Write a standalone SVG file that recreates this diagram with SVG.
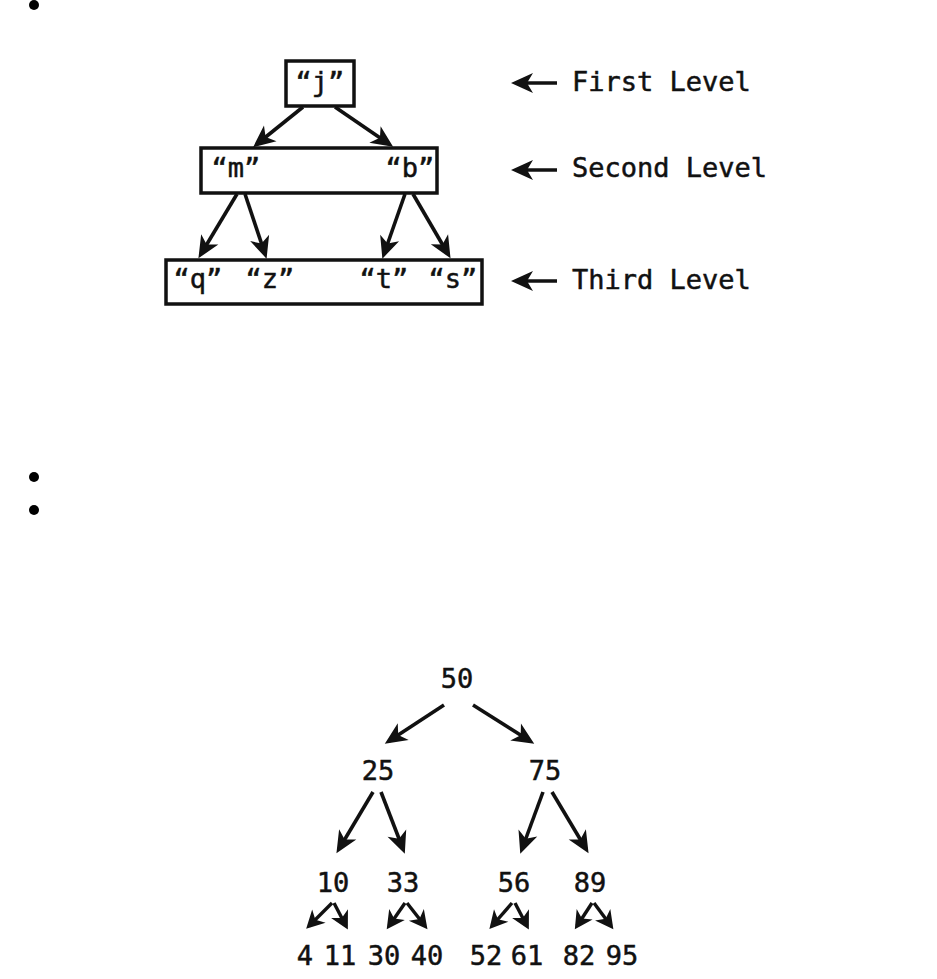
<svg xmlns="http://www.w3.org/2000/svg" width="937" height="979" viewBox="0 0 937 979">
<style>
text{font-family:"DejaVu Sans Mono","Liberation Mono",monospace;font-size:27px;fill:#111;stroke:#111;stroke-width:0.5;text-anchor:middle}
.lbl{text-anchor:start}
.box{fill:#fff;stroke:#111;stroke-width:3.5}
.c line{stroke:#111;stroke-width:3.6;marker-end:url(#ah)}
.c .s{stroke-width:3.4;marker-end:url(#ahs)}
</style>
<defs>
<marker id="ah" viewBox="-20 -12 28 24" markerWidth="28" markerHeight="24" refX="0" refY="0" orient="auto" markerUnits="userSpaceOnUse">
<path d="M5,0 L-17,-10 L-11,0 L-17,10 Z" fill="#111"/>
</marker>
<marker id="ahs" viewBox="-20 -12 28 24" markerWidth="28" markerHeight="24" refX="0" refY="0" orient="auto" markerUnits="userSpaceOnUse">
<path d="M4,0 L-14,-9.5 L-9,0 L-14,9.5 Z" fill="#111"/>
</marker>
</defs>
<g id="bullets" fill="#000">
<circle cx="34" cy="5" r="5"/>
<circle cx="34" cy="477" r="5"/>
<circle cx="34" cy="510" r="5"/>
</g>
<g id="n-j"><rect class="box" x="286" y="61" width="68" height="45"/><text x="320" y="91">“j”</text></g>
<g id="n-mb"><rect class="box" x="201" y="148" width="236" height="45"/><text x="236" y="177">“m”</text><text x="410" y="177">“b”</text></g>
<g id="n-qzts"><rect class="box" x="166" y="260" width="316" height="44"/><text x="198" y="288">“q”</text><text x="270" y="288">“z”</text><text x="384" y="288">“t”</text><text x="453" y="288">“s”</text></g>
<g id="l1"><text class="lbl" x="572" y="91">First Level</text></g>
<g id="l2"><text class="lbl" x="572" y="177">Second Level</text></g>
<g id="l3"><text class="lbl" x="572" y="289">Third Level</text></g>
<g id="n50"><text x="457" y="688">50</text></g>
<g id="n25"><text x="378" y="780">25</text></g>
<g id="n75"><text x="545" y="780">75</text></g>
<g id="n10"><text x="333" y="892">10</text></g>
<g id="n33"><text x="403" y="892">33</text></g>
<g id="n56"><text x="514" y="892">56</text></g>
<g id="n89"><text x="590" y="892">89</text></g>
<g id="n4"><text x="305" y="965">4</text></g>
<g id="n11"><text x="340" y="965">11</text></g>
<g id="n30"><text x="384" y="965">30</text></g>
<g id="n40"><text x="427" y="965">40</text></g>
<g id="n52"><text x="486" y="965">52</text></g>
<g id="n61"><text x="527" y="965">61</text></g>
<g id="n82"><text x="579" y="965">82</text></g>
<g id="n95"><text x="622" y="965">95</text></g>
<g class="c" id="connectors">
<line x1="303" y1="107" x2="257" y2="144"/>
<line x1="335" y1="107" x2="389" y2="144"/>
<line x1="237" y1="194" x2="201" y2="254"/>
<line x1="245" y1="194" x2="265" y2="254"/>
<line x1="405" y1="194" x2="384" y2="254"/>
<line x1="413" y1="194" x2="448" y2="254"/>
<line x1="557" y1="83" x2="516" y2="83"/>
<line x1="557" y1="170" x2="516" y2="170"/>
<line x1="557" y1="281" x2="516" y2="281"/>
<line x1="444" y1="705" x2="389" y2="741"/>
<line x1="473" y1="705" x2="530" y2="741"/>
<line x1="373" y1="792" x2="339" y2="849"/>
<line x1="381" y1="792" x2="403" y2="849"/>
<line x1="543" y1="792" x2="522" y2="849"/>
<line x1="552" y1="792" x2="586" y2="849"/>
<line class="s" x1="332" y1="903" x2="309" y2="926"/>
<line class="s" x1="334" y1="903" x2="346" y2="926"/>
<line class="s" x1="405" y1="903" x2="389" y2="926"/>
<line class="s" x1="407" y1="903" x2="425" y2="926"/>
<line class="s" x1="512" y1="903" x2="492" y2="926"/>
<line class="s" x1="515" y1="903" x2="527" y2="926"/>
<line class="s" x1="592" y1="903" x2="577" y2="926"/>
<line class="s" x1="594" y1="903" x2="611" y2="926"/>
</g>
</svg>
